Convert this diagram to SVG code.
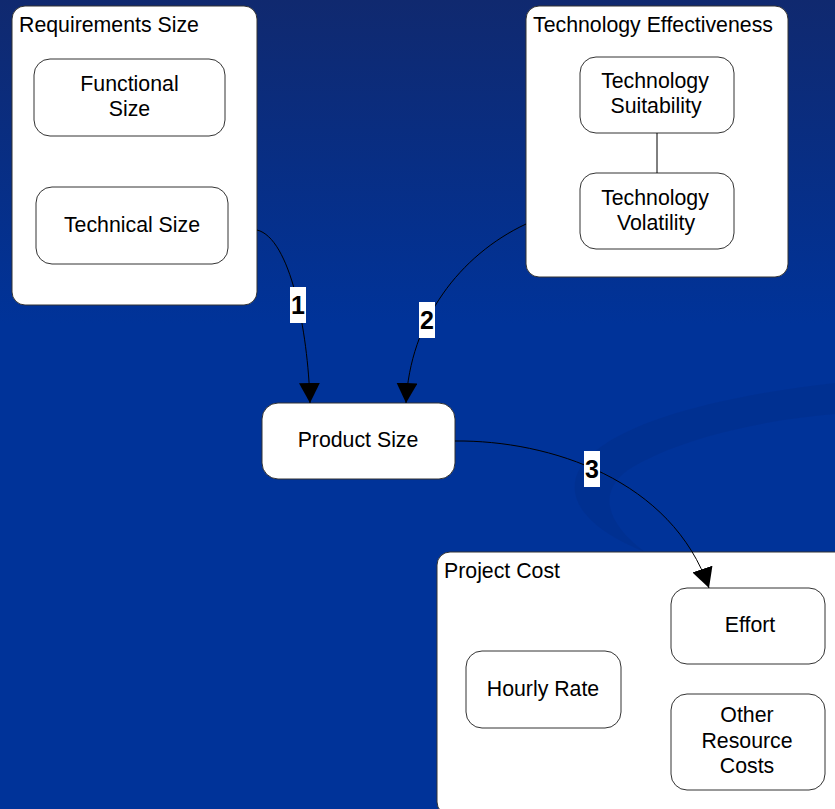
<svg xmlns="http://www.w3.org/2000/svg" width="835" height="809" viewBox="0 0 835 809">
<defs>
<linearGradient id="bg" x1="0" y1="0" x2="0" y2="1">
<stop offset="0" stop-color="#10296f"/>
<stop offset="0.4" stop-color="#003399"/>
<stop offset="1" stop-color="#003399"/>
</linearGradient>
<marker id="arr" markerWidth="20" markerHeight="21" refX="20" refY="10.5" orient="auto" markerUnits="userSpaceOnUse">
<path d="M0,0 L20,10.5 L0,21 Z" fill="#000"/>
</marker>
<style>
.box{fill:#fff;stroke:#333;stroke-width:1}
.t{font-family:"Liberation Sans",Arial,sans-serif;font-size:21.3px;fill:#000}
.c{text-anchor:middle}
.lbl{font-family:"Liberation Sans",Arial,sans-serif;font-size:25px;font-weight:bold;fill:#000;text-anchor:middle}
.conn{fill:none;stroke:#000;stroke-width:1}
</style>
</defs>
<rect width="835" height="809" fill="url(#bg)"/>
<path d="M835,383 C700,398 605,428 580,468 C562,500 590,530 645,552 C605,522 598,492 628,470 C675,440 760,420 835,414 Z" fill="#002a80" opacity="0.3"/>

<g id="requirements-size">
<rect class="box" x="12" y="6" width="245" height="299" rx="13"/>
<text class="t" x="19" y="32">Requirements Size</text>
</g>
<g id="functional-size">
<rect class="box" x="34" y="59" width="191" height="77" rx="16"/>
<text class="t c" x="129.5" y="91">Functional</text>
<text class="t c" x="129.5" y="115.5">Size</text>
</g>
<g id="technical-size">
<rect class="box" x="36" y="187" width="192" height="77" rx="16"/>
<text class="t c" x="132" y="232">Technical Size</text>
</g>

<g id="technology-effectiveness">
<rect class="box" x="526" y="6" width="262" height="271" rx="13"/>
<text class="t" x="533" y="32">Technology Effectiveness</text>
</g>
<g id="technology-suitability">
<rect class="box" x="580" y="57" width="154" height="76" rx="16"/>
<text class="t c" x="655" y="88">Technology</text>
<text class="t c" x="656" y="113">Suitability</text>
</g>
<g id="technology-volatility">
<rect class="box" x="580" y="173" width="154" height="76" rx="16"/>
<text class="t c" x="655" y="205">Technology</text>
<text class="t c" x="656" y="230">Volatility</text>
</g>

<g id="product-size">
<rect class="box" x="262" y="403" width="193" height="76" rx="16"/>
<text class="t c" x="358" y="447">Product Size</text>
</g>

<g id="project-cost">
<rect class="box" x="437" y="552" width="420" height="263" rx="13"/>
<text class="t" x="444" y="578">Project Cost</text>
</g>
<g id="effort">
<rect class="box" x="671" y="588" width="154" height="76" rx="16"/>
<text class="t c" x="750" y="632">Effort</text>
</g>
<g id="hourly-rate">
<rect class="box" x="466" y="651" width="155" height="77" rx="16"/>
<text class="t c" x="543" y="696">Hourly Rate</text>
</g>
<g id="other-resource-costs">
<rect class="box" x="671" y="694" width="154" height="96" rx="16"/>
<text class="t c" x="747" y="722">Other</text>
<text class="t c" x="747" y="748">Resource</text>
<text class="t c" x="747" y="773">Costs</text>
</g>

<g id="connectors">
<line class="conn" x1="657" y1="133" x2="657" y2="173"/>
<path class="conn" d="M257,230 C290,238 308,330 310,403" marker-end="url(#arr)"/>
<path class="conn" d="M526,224 C460,255 410,320 406,403" marker-end="url(#arr)"/>
<path class="conn" d="M455,441 C550,440 672,480 709,588" marker-end="url(#arr)"/>
<rect x="290" y="287" width="16" height="36" fill="#fff"/>
<text class="lbl" x="298" y="314">1</text>
<rect x="419" y="302" width="16" height="36" fill="#fff"/>
<text class="lbl" x="427" y="329">2</text>
<rect x="584" y="451" width="16" height="36" fill="#fff"/>
<text class="lbl" x="592" y="478">3</text>
</g>
</svg>
